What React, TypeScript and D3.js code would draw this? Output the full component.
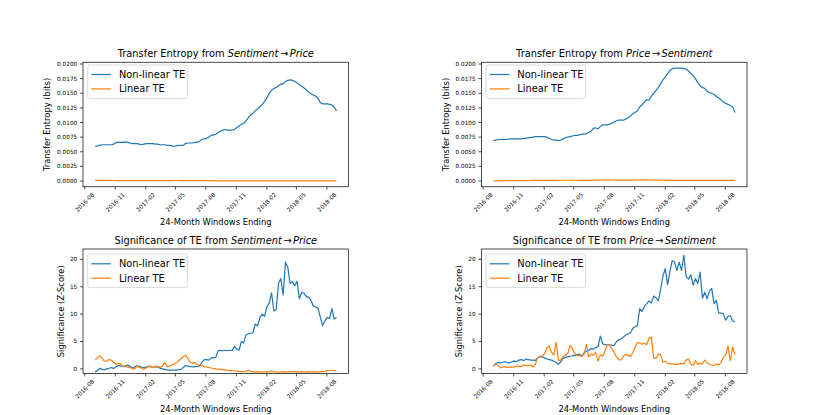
import React from 'react';
import * as d3 from 'd3';

// ---------- data ----------
const firstWindowEnd = '2016-09-01';
const weeksCount = 105;
const xTickLabels = ['2016-08', '2016-11', '2017-02', '2017-05', '2017-08', '2017-11', '2018-02', '2018-05', '2018-08'];
const teTicks = [0, 0.0025, 0.005, 0.0075, 0.01, 0.0125, 0.015, 0.0175, 0.02];
const zTicks = [0, 5, 10, 15, 20];
const seriesNames = ['Non-linear TE', 'Linear TE'];

const teNonlinearSentPrice = [
  0.0059, 0.0060, 0.0061, 0.0062, 0.0062, 0.0062, 0.0062, 0.0062, 0.0063, 0.0066,
  0.0066, 0.0066, 0.0066, 0.0067, 0.0066, 0.0065, 0.0064, 0.0064, 0.0064, 0.0063,
  0.0062, 0.0063, 0.0064, 0.0064, 0.0064, 0.0064, 0.0063, 0.0063, 0.0062, 0.0062,
  0.0062, 0.0061, 0.0061, 0.0060, 0.0059, 0.0060, 0.0061, 0.0061, 0.0061, 0.0064,
  0.0065, 0.0065, 0.0065, 0.0066, 0.0066, 0.0068, 0.0071, 0.0072, 0.0073, 0.0075,
  0.0078, 0.0079, 0.0080, 0.0083, 0.0085, 0.0087, 0.0088, 0.0087, 0.0087, 0.0087,
  0.0088, 0.0091, 0.0094, 0.0097, 0.0098, 0.0103, 0.0108, 0.0113, 0.0116, 0.0120,
  0.0123, 0.0127, 0.0131, 0.0136, 0.0142, 0.0150, 0.0155, 0.0158, 0.0160, 0.0163,
  0.0166, 0.0166, 0.0170, 0.0172, 0.0173, 0.0172, 0.0170, 0.0168, 0.0165, 0.0162,
  0.0159, 0.0156, 0.0152, 0.0149, 0.0147, 0.0145, 0.0142, 0.0134, 0.0132, 0.0132,
  0.0132, 0.0131, 0.0130, 0.0126, 0.0120,
];
const teLinearSentPrice = [
  0.00012, 0.00012, 0.00011, 0.00011, 0.00010, 0.00010, 0.00010, 0.00009, 0.00009, 0.00009,
  0.00008, 0.00008, 0.00007, 0.00007, 0.00006, 0.00006, 0.00006, 0.00005, 0.00005, 0.00005,
  0.00005, 0.00005, 0.00006, 0.00006, 0.00007, 0.00007, 0.00007, 0.00007, 0.00006, 0.00006,
  0.00006, 0.00007, 0.00008, 0.00008, 0.00009, 0.00009, 0.00009, 0.00008, 0.00008, 0.00008,
  0.00008, 0.00007, 0.00007, 0.00007, 0.00006, 0.00006, 0.00006, 0.00006, 0.00005, 0.00005,
  0.00005, 0.00005, 0.00004, 0.00004, 0.00004, 0.00004, 0.00003, 0.00003, 0.00003, 0.00003,
  0.00003, 0.00003, 0.00003, 0.00002, 0.00002, 0.00002, 0.00002, 0.00002, 0.00002, 0.00002,
  0.00002, 0.00002, 0.00002, 0.00002, 0.00002, 0.00002, 0.00002, 0.00002, 0.00002, 0.00002,
  0.00002, 0.00002, 0.00002, 0.00002, 0.00002, 0.00002, 0.00002, 0.00002, 0.00002, 0.00002,
  0.00002, 0.00002, 0.00002, 0.00002, 0.00002, 0.00002, 0.00002, 0.00002, 0.00002, 0.00002,
  0.00002, 0.00002, 0.00002, 0.00002, 0.00002,
];
const teNonlinearPriceSent = [
  0.0069, 0.0070, 0.0071, 0.0071, 0.0071, 0.0071, 0.0071, 0.0072, 0.0072, 0.0072,
  0.0072, 0.0072, 0.0072, 0.0073, 0.0073, 0.0074, 0.0074, 0.0075, 0.0076, 0.0076,
  0.0076, 0.0076, 0.0076, 0.0075, 0.0073, 0.0071, 0.0070, 0.0070, 0.0069, 0.0070,
  0.0072, 0.0074, 0.0075, 0.0076, 0.0077, 0.0078, 0.0078, 0.0079, 0.0080, 0.0080,
  0.0081, 0.0083, 0.0085, 0.0090, 0.0091, 0.0089, 0.0093, 0.0096, 0.0096, 0.0096,
  0.0097, 0.0099, 0.0101, 0.0103, 0.0104, 0.0104, 0.0104, 0.0106, 0.0108, 0.0111,
  0.0115, 0.0117, 0.0120, 0.0127, 0.0130, 0.0135, 0.0139, 0.0138, 0.0145, 0.0150,
  0.0155, 0.0160, 0.0166, 0.0173, 0.0178, 0.0183, 0.0189, 0.0192, 0.0193, 0.0193,
  0.0193, 0.0193, 0.0192, 0.0191, 0.0188, 0.0184, 0.0180, 0.0175, 0.0168, 0.0163,
  0.0160, 0.0158, 0.0154, 0.0151, 0.0150, 0.0148, 0.0145, 0.0142, 0.0139, 0.0135,
  0.0133, 0.0131, 0.0129, 0.0127, 0.0117,
];
const teLinearPriceSent = [
  0.00004, 0.00004, 0.00004, 0.00005, 0.00005, 0.00005, 0.00005, 0.00005, 0.00006, 0.00006,
  0.00006, 0.00006, 0.00006, 0.00007, 0.00007, 0.00008, 0.00009, 0.00010, 0.00010, 0.00011,
  0.00011, 0.00012, 0.00012, 0.00012, 0.00012, 0.00012, 0.00012, 0.00012, 0.00013, 0.00013,
  0.00013, 0.00013, 0.00013, 0.00013, 0.00014, 0.00013, 0.00013, 0.00013, 0.00012, 0.00012,
  0.00012, 0.00012, 0.00012, 0.00013, 0.00014, 0.00015, 0.00016, 0.00017, 0.00018, 0.00018,
  0.00018, 0.00017, 0.00016, 0.00016, 0.00015, 0.00015, 0.00015, 0.00015, 0.00014, 0.00014,
  0.00015, 0.00016, 0.00017, 0.00018, 0.00019, 0.00019, 0.00018, 0.00017, 0.00016, 0.00015,
  0.00014, 0.00014, 0.00013, 0.00013, 0.00012, 0.00012, 0.00012, 0.00012, 0.00012, 0.00012,
  0.00012, 0.00012, 0.00011, 0.00011, 0.00011, 0.00011, 0.00011, 0.00011, 0.00010, 0.00010,
  0.00010, 0.00010, 0.00010, 0.00010, 0.00010, 0.00010, 0.00010, 0.00010, 0.00011, 0.00011,
  0.00011, 0.00011, 0.00011, 0.00011, 0.00011,
];
const zNonlinearSentPrice = [
  -0.55, -0.35, 0.1, -0.05, -0.2, 0.0, 0.1, 0.25, 0.05, 0.35,
  0.6, 0.55, 0.45, 0.4, 0.7, 0.45, 0.2, 0.35, 0.55, 0.45,
  0.3, 0.25, 0.3, 0.45, 0.4, 0.25, 0.35, 0.35, 0.1, 0.0,
  -0.1, -0.2, -0.25, -0.25, -0.25, -0.25, -0.15, -0.1, 0.25, 0.6,
  0.5, 0.4, 0.35, 0.4, 0.45, 0.55, 1.2, 1.7, 1.7, 1.6,
  2.0, 2.0, 2.1, 3.3, 3.4, 3.3, 3.4, 3.3, 3.4, 3.3,
  4.1, 3.6, 3.4, 5.0, 4.7, 6.2, 6.4, 6.5, 6.6, 8.2,
  7.8, 9.4, 10.0, 9.6, 11.3, 12.0, 13.9, 10.6, 10.8, 15.6,
  16.5, 13.5, 19.5, 18.6, 15.6, 15.9, 15.2, 16.0, 12.8, 14.0,
  13.8, 13.2, 13.1, 12.5, 11.5, 11.3, 11.1, 9.5, 7.9, 8.8,
  9.4, 9.2, 11.0, 9.1, 9.4,
];
const zLinearSentPrice = [
  1.6, 2.0, 2.4, 1.9, 1.4, 1.4, 1.7, 1.6, 1.2, 0.8,
  1.0, 0.9, 0.4, 0.6, 0.3, 0.2, 0.1, -0.05, 0.5, 0.3,
  0.1, -0.1, 0.2, 0.4, 0.5, 0.2, 0.5, 0.4, 0.3, 0.5,
  1.2, 0.4, 0.5, 0.7, 0.9, 1.1, 1.5, 1.8, 2.2, 2.5,
  1.9, 1.2, 1.0, 1.2, 0.8, 0.7, 0.6, 0.4, 0.3, 0.25,
  0.15, 0.1, 0.0, -0.05, -0.1, -0.15, -0.2, -0.25, -0.3, -0.3,
  -0.35, -0.4, -0.45, -0.5, -0.5, -0.45, -0.25, -0.45, -0.55, -0.55,
  -0.5, -0.55, -0.6, -0.55, -0.5, -0.55, -0.35, -0.5, -0.55, -0.6,
  -0.55, -0.5, -0.55, -0.6, -0.55, -0.5, -0.45, -0.55, -0.5, -0.55,
  -0.6, -0.55, -0.5, -0.55, -0.5, -0.55, -0.6, -0.55, -0.5, -0.45,
  -0.35, -0.3, -0.3, -0.35, -0.4,
];
const zNonlinearPriceSent = [
  0.55, 1.0, 1.15, 1.15, 1.2, 1.3, 1.1, 1.1, 1.3, 1.45,
  1.3, 1.6, 1.7, 1.5, 1.8, 1.7, 1.6, 1.6, 1.55, 2.0,
  2.2, 2.2, 2.0, 1.8, 1.7, 1.6, 1.4, 1.2, 0.85, 1.3,
  1.9, 2.1, 2.2, 2.3, 2.4, 2.4, 2.6, 2.7, 2.3, 2.9,
  3.2, 3.4, 3.7, 3.6, 3.9, 4.0, 6.0, 4.6, 4.4, 4.4,
  4.4, 4.3, 4.3, 5.0, 5.3, 5.5, 5.8, 6.2, 6.4, 6.6,
  7.4, 7.7, 7.9, 11.0, 10.5, 11.4, 11.9, 12.4, 12.0, 13.3,
  13.0, 12.4, 14.5, 17.0, 18.3, 15.4, 17.8, 19.8, 19.5, 18.0,
  19.5, 18.0, 20.8, 16.8, 16.4, 17.2, 15.3, 16.5, 15.6, 17.7,
  12.9, 14.0, 12.8, 14.2, 14.7, 11.9, 12.5, 10.2, 10.2, 10.1,
  8.9, 9.6, 9.7, 8.8, 8.6,
];
const zLinearPriceSent = [
  0.45, 0.9, 0.6, 0.15, 0.35, 0.4, 0.25, 0.35, 0.3, 0.3,
  0.55, 0.4, 0.45, 0.75, 0.6, 0.6, 0.7, 0.35, 0.8, 2.0,
  2.3, 2.4, 2.7, 3.8, 4.2, 3.0, 2.5, 4.9, 1.5, 1.6,
  2.3, 2.5, 2.8, 4.3, 3.7, 2.8, 2.4, 2.4, 2.3, 2.6,
  4.5, 2.2, 2.7, 2.5, 3.0, 1.4, 2.6, 2.3, 3.2, 4.4,
  4.4, 3.7, 3.0, 2.1, 1.7, 1.6, 2.4, 2.6, 2.5, 2.2,
  3.0, 3.9, 4.8, 4.7, 4.5, 4.7, 4.4, 5.6, 5.8, 2.0,
  1.9, 2.7, 2.6, 1.2, 1.4, 1.0, 0.9, 0.9, 0.8, 0.8,
  0.9, 1.0, 0.9, 1.6, 1.8, 0.8, 0.6, 1.5, 0.8, 1.0,
  0.9, 1.6, 1.1, 0.8, 0.7, 0.6, 0.9, 0.7, 1.2, 2.1,
  2.5, 4.2, 1.5, 4.0, 2.6,
];

// ---------- layout ----------
const W = 830;
const H = 415;
const COL_X = [83, 481.4];
const ROW_Y = [62.25, 249];
const AX_W = 265.6;
const AX_H = 124.5;
const BLUE = '#1f77b4';
const ORANGE = '#ff7f0e';
const FONT = 'DejaVu Sans';

const DAY = 86400000;
const startMs = d3.utcParse('%Y-%m-%d')(firstWindowEnd)!.getTime();
const windowEnds = d3.range(weeksCount).map((i) => new Date(startMs + i * 7 * DAY));
const tickDates = xTickLabels.map((s) => d3.utcParse('%Y-%m')(s)!);

const ext = d3.extent(windowEnds) as [Date, Date];
const span = ext[1].getTime() - ext[0].getTime();
const xDomain: [Date, Date] = [new Date(ext[0].getTime() - span * 0.05), new Date(ext[1].getTime() + span * 0.05)];

type PanelProps = {
  col: number;
  row: number;
  titlePre: string;
  from: string;
  to: string;
  ylabel: string;
  ylabelOffset: number;
  yDomain: [number, number];
  yTicks: number[];
  yFmt: (v: number) => string;
  nl: number[];
  lin: number[];
};

function Panel(p: PanelProps) {
  const x0 = COL_X[p.col];
  const y0 = ROW_Y[p.row];
  const x = d3.scaleUtc().domain(xDomain).range([x0, x0 + AX_W]);
  const y = d3.scaleLinear().domain(p.yDomain).range([y0 + AX_H, y0]);
  const line = (vals: number[]) =>
    d3.line<number>().x((_, i) => x(windowEnds[i])).y((v) => y(v))(vals) || '';
  const bottom = y0 + AX_H;
  const tickLen = 2.9;
  const legendX = x0 + 4.7;
  const legendY = y0 + (p.row === 0 ? 2.75 : 5.3);
  return (
    <g>
      <clipPath id={`clip-${p.col}-${p.row}`}>
        <rect x={x0} y={y0} width={AX_W} height={AX_H} />
      </clipPath>
      <g clipPath={`url(#clip-${p.col}-${p.row})`}>
        <path d={line(p.nl)} fill="none" stroke={BLUE} strokeWidth={1.2} strokeLinejoin="round" />
        <path d={line(p.lin)} fill="none" stroke={ORANGE} strokeWidth={1.2} strokeLinejoin="round" />
      </g>
      <rect x={x0} y={y0} width={AX_W} height={AX_H} fill="none" stroke="#000" strokeWidth={0.7} />
      {/* y ticks */}
      {p.yTicks.map((t) => (
        <g key={`y${t}`}>
          <line x1={x0 - tickLen} x2={x0} y1={y(t)} y2={y(t)} stroke="#000" strokeWidth={0.7} />
          <text x={x0 - tickLen - 2.9} y={y(t)} textAnchor="end" dominantBaseline="central" fontSize={5.74} fontFamily={FONT}>
            {p.yFmt(t)}
          </text>
        </g>
      ))}
      {/* x ticks */}
      {tickDates.map((d, i) => {
        const tx = x(d);
        const cy = bottom + 15.5;
        return (
          <g key={`x${i}`}>
            <line x1={tx} x2={tx} y1={bottom} y2={bottom + tickLen} stroke="#000" strokeWidth={0.7} />
            <text
              transform={`translate(${tx},${cy}) rotate(-45)`}
              textAnchor="middle"
              dominantBaseline="central"
              fontSize={5.74}
              fontFamily={FONT}
            >
              {xTickLabels[i]}
            </text>
          </g>
        );
      })}
      {/* title */}
      <text x={x0 + AX_W / 2} y={y0 - 5.5} textAnchor="middle" fontSize={9.84} fontFamily={FONT}>
        {p.titlePre}
        <tspan fontStyle="italic">{p.from}</tspan>
        <tspan dx={1.5}>→</tspan>
        <tspan dx={1.5} fontStyle="italic">{p.to}</tspan>
      </text>
      {/* axis labels */}
      <text x={x0 + AX_W / 2} y={bottom + 38} textAnchor="middle" fontSize={8.4} fontFamily={FONT}>
        24-Month Windows Ending
      </text>
      <text
        transform={`translate(${x0 - p.ylabelOffset},${y0 + AX_H / 2}) rotate(-90)`}
        textAnchor="middle"
        dominantBaseline="central"
        fontSize={8.4}
        fontFamily={FONT}
      >
        {p.ylabel}
      </text>
      {/* legend */}
      <rect x={legendX} y={legendY} width={99.6} height={33.3} rx={2} fill="#fff" fillOpacity={0.8} stroke="#ccc" strokeWidth={0.7} />
      {seriesNames.map((name, i) => {
        const ly = legendY + 9.5 + i * 14.4;
        return (
          <g key={name}>
            <line x1={legendX + 3.6} x2={legendX + 23.3} y1={ly} y2={ly} stroke={i === 0 ? BLUE : ORANGE} strokeWidth={1.2} />
            <text x={legendX + 31.2} y={ly} dominantBaseline="central" fontSize={9.84} fontFamily={FONT}>
              {name}
            </text>
          </g>
        );
      })}
    </g>
  );
}

const teDomain: [number, number] = [-0.00098, 0.0203];
const zDomain: [number, number] = [-0.85, 21.9];
const fmtTE = (v: number) => d3.format('.4f')(v);
const fmtZ = (v: number) => d3.format('d')(v);

export default function App() {
  return (
    <div style={{ position: 'fixed', left: 0, top: 0 }}>
      <svg width={W} height={H} style={{ display: 'block', background: '#fff' }}>
        <Panel col={0} row={0} titlePre="Transfer Entropy from " from="Sentiment" to="Price"
          ylabel="Transfer Entropy (bits)" ylabelOffset={35.7} yDomain={teDomain} yTicks={teTicks} yFmt={fmtTE}
          nl={teNonlinearSentPrice} lin={teLinearSentPrice} />
        <Panel col={1} row={0} titlePre="Transfer Entropy from " from="Price" to="Sentiment"
          ylabel="Transfer Entropy (bits)" ylabelOffset={35.7} yDomain={teDomain} yTicks={teTicks} yFmt={fmtTE}
          nl={teNonlinearPriceSent} lin={teLinearPriceSent} />
        <Panel col={0} row={1} titlePre="Significance of TE from " from="Sentiment" to="Price"
          ylabel="Significance (Z-Score)" ylabelOffset={22.3} yDomain={zDomain} yTicks={zTicks} yFmt={fmtZ}
          nl={zNonlinearSentPrice} lin={zLinearSentPrice} />
        <Panel col={1} row={1} titlePre="Significance of TE from " from="Price" to="Sentiment"
          ylabel="Significance (Z-Score)" ylabelOffset={22.3} yDomain={zDomain} yTicks={zTicks} yFmt={fmtZ}
          nl={zNonlinearPriceSent} lin={zLinearPriceSent} />
      </svg>
    </div>
  );
}
